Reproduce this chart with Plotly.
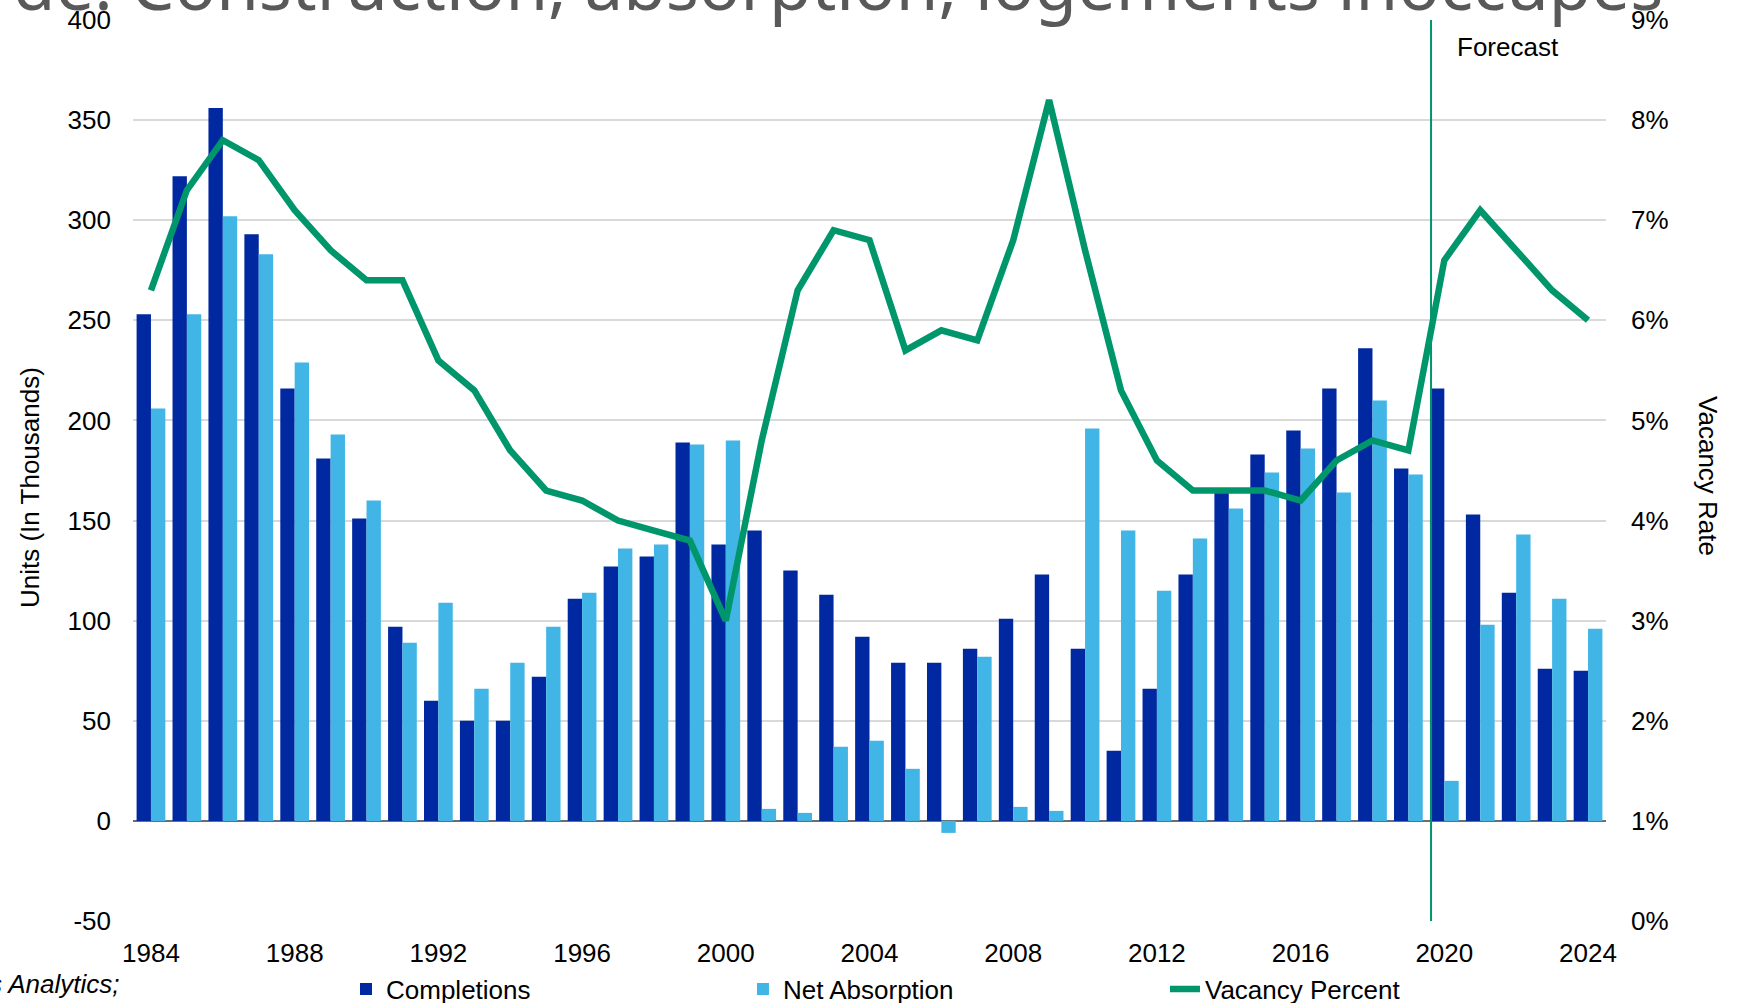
import plotly.graph_objects as go

years = list(range(1984, 2025))
completions = [253, 322, 356, 293, 216, 181, 151, 97, 60, 50,
               50, 72, 111, 127, 132, 189, 138, 145, 125, 113,
               92, 79, 79, 86, 101, 123, 86, 35, 66, 123,
               165, 183, 195, 216, 236, 176, 216, 153, 114, 76, 75]
net_absorption = [206, 253, 302, 283, 229, 193, 160, 89, 109, 66,
                  79, 97, 114, 136, 138, 188, 190, 6, 4, 37,
                  40, 26, -6, 82, 7, 5, 196, 145, 115, 141,
                  156, 174, 186, 164, 210, 173, 20, 98, 143, 111, 96]
vacancy = [6.3, 7.3, 7.8, 7.6, 7.1, 6.7, 6.4, 6.4, 5.6, 5.3,
           4.7, 4.3, 4.2, 4.0, 3.9, 3.8, 3.0, 4.8, 6.3, 6.9,
           6.8, 5.7, 5.9, 5.8, 6.8, 8.2, 6.7, 5.3, 4.6, 4.3,
           4.3, 4.3, 4.2, 4.6, 4.8, 4.7, 6.6, 7.1, 6.7, 6.3, 6.0]

x_tick_vals = list(range(1984, 2025, 4))
left_tick_vals = [-50, 0, 50, 100, 150, 200, 250, 300, 350, 400]
left_tick_text = ["-50", "0", "50", "100", "150", "200", "250", "300", "350", "400"]
right_tick_vals = [0, 1, 2, 3, 4, 5, 6, 7, 8, 9]
right_tick_text = ["0%", "1%", "2%", "3%", "4%", "5%", "6%", "7%", "8%", "9%"]
forecast_x = 2019.63

DARK = "#0028A0"
LIGHT = "#41B6E6"
GREEN = "#00966C"
FONT = "Liberation Sans, Arial, sans-serif"

fig = go.Figure()
fig.add_trace(go.Bar(x=years, y=completions, name="Completions", showlegend=True,
                     marker=dict(color=DARK, line=dict(width=0)), legend="legend"))
fig.add_trace(go.Bar(x=years, y=net_absorption, name="Net Absorption", showlegend=True,
                     marker=dict(color=LIGHT, line=dict(width=0)), legend="legend2"))
fig.add_trace(go.Scatter(x=years, y=vacancy, name="Vacancy Percent", mode="lines", showlegend=True,
                         line=dict(color=GREEN, width=6.5), yaxis="y2", legend="legend3"))

legend_common = dict(orientation="h", yanchor="middle", y=-0.0755, xanchor="left",
                     font=dict(family=FONT, size=26, color="#000000"),
                     bgcolor="rgba(0,0,0,0)")

fig.update_layout(
    width=1742, height=1003,
    margin=dict(l=133, r=136, t=20, b=82, autoexpand=False),
    showlegend=True,
    paper_bgcolor="white", plot_bgcolor="white",
    barmode="group", bargap=0.2, bargroupgap=0.0,
    font=dict(family=FONT, size=26, color="#000000"),
    xaxis=dict(range=[1983.5, 2024.5], tickvals=x_tick_vals, showgrid=False,
               zeroline=False, showline=False, ticks="", ticklabelstandoff=14,
               tickfont=dict(size=26), automargin=False),
    yaxis=dict(range=[-50, 400], tickvals=left_tick_vals, ticktext=left_tick_text,
               showgrid=True, gridcolor="#D9D9D9", gridwidth=2,
               zeroline=True, zerolinecolor="#6E6E6E", zerolinewidth=1.5,
               showline=False, ticks="", ticklabelstandoff=21, tickfont=dict(size=26),
               automargin=False),
    yaxis2=dict(range=[0, 9], tickvals=right_tick_vals, ticktext=right_tick_text,
                overlaying="y", side="right", showgrid=False, zeroline=False,
                showline=False, ticks="", ticklabelstandoff=24, tickfont=dict(size=26),
                automargin=False),
    legend=dict(x=0.1446, **legend_common),
    legend2=dict(x=0.4141, **legend_common),
    legend3=dict(x=0.7006, **legend_common),
    shapes=[dict(type="line", xref="x", yref="paper", x0=forecast_x, x1=forecast_x,
                 y0=0, y1=1, line=dict(color=GREEN, width=2), layer="above")],
    annotations=[
        dict(text="de: Construction, absorption, logements inoccupés", xref="paper", yref="paper",
             x=1.0400, y=0.9865, xanchor="right", yanchor="bottom", showarrow=False,
             font=dict(family="Noto Sans, sans-serif", size=69, color="#595959")),
        dict(text="Forecast", xref="x", yref="paper", x=2020.3, y=0.970,
             xanchor="left", yanchor="middle", showarrow=False,
             font=dict(family=FONT, size=26, color="#000000")),
        dict(text="Units (In Thousands)", xref="paper", yref="paper", x=-0.0699, y=0.4806,
             textangle=-90, xanchor="center", yanchor="middle", showarrow=False,
             font=dict(family=FONT, size=26, color="#000000")),
        dict(text="Vacancy Rate", xref="paper", yref="paper", x=1.0692, y=0.4939,
             textangle=90, xanchor="center", yanchor="middle", showarrow=False,
             font=dict(family=FONT, size=26, color="#000000")),
        dict(text="<i>s Analytics;</i>", xref="paper", yref="paper", x=-0.0075, y=-0.0699,
             xanchor="right", yanchor="middle", showarrow=False,
             font=dict(family=FONT, size=26, color="#000000")),
    ],
)

fig.write_html("out.html", config={"displayModeBar": False},
               post_script="document.body.style.margin='0';")
